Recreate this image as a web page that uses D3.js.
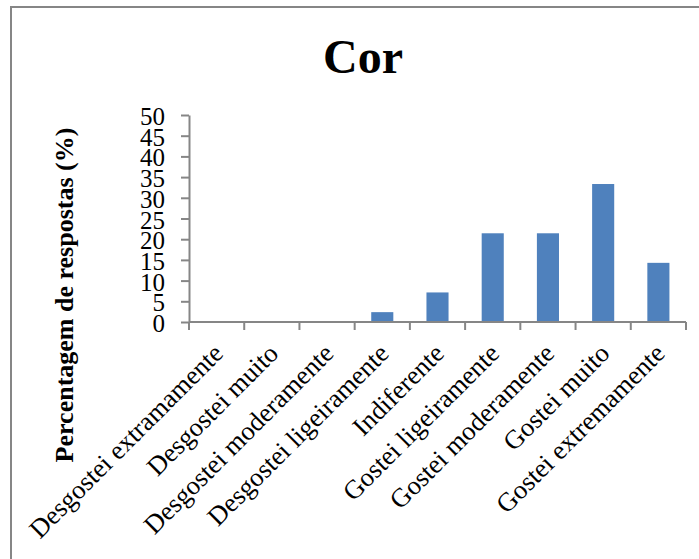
<!DOCTYPE html>
<html>
<head>
<meta charset="utf-8">
<script src="https://cdn.jsdelivr.net/npm/d3@7"></script>
<style>
  html, body { margin: 0; padding: 0; background: #fff; }
  svg { display: block; }
  text { font-family: "Liberation Serif", "Times New Roman", serif; fill: #000; }
</style>
</head>
<body>
<svg id="chart" width="699" height="559"></svg>
<script>
// Category labels (hedonic scale) and percentage of responses
const categories = [
  "Desgostei extramamente",
  "Desgostei muito",
  "Desgostei moderamente",
  "Desgostei ligeiramente",
  "Indiferente",
  "Gostei ligeiramente",
  "Gostei moderamente",
  "Gostei muito",
  "Gostei extremamente"
];
const values = [0, 0, 0, 2.38, 7.14, 21.43, 21.43, 33.33, 14.29];
const yTicks = [0, 5, 10, 15, 20, 25, 30, 35, 40, 45, 50];
const titleText = "Cor";
const yTitle = "Percentagem de respostas (%)";

const svg = d3.select("#chart");

// Chart frame
svg.append("rect")
  .attr("x", 11).attr("y", 7)
  .attr("width", 720).attr("height", 600)
  .attr("fill", "#fff")
  .attr("stroke", "#868686").attr("stroke-width", 2);

const plot = { left: 189, right: 686, top: 115, bottom: 322 };

const x = d3.scaleBand().domain(categories).range([plot.left, plot.right]).padding(0);
const y = d3.scaleLinear().domain([0, 50]).range([plot.bottom, plot.top]);

// Bars
const barW = x.bandwidth() * 0.4;
svg.append("g").selectAll("rect")
  .data(categories.map((c, i) => ({ c, v: values[i] })))
  .join("rect")
  .attr("x", d => x(d.c) + (x.bandwidth() - barW) / 2)
  .attr("y", d => y(d.v))
  .attr("width", barW)
  .attr("height", d => y(0) - y(d.v))
  .attr("fill", "#4F81BD");

// Y axis
const yAxis = svg.append("g")
  .attr("transform", `translate(${plot.left},0)`)
  .call(d3.axisLeft(y).tickValues(yTicks).tickSize(8).tickSizeOuter(0).tickPadding(16));
yAxis.selectAll("path, line").attr("stroke", "#868686").attr("stroke-width", 2);
yAxis.selectAll("text")
  .attr("font-family", "Liberation Serif, Times New Roman, serif")
  .attr("font-size", 25)
  .attr("dy", "0.38em");

// X axis: ticks at category boundaries
const boundaries = categories.map(c => x(c)).concat([plot.right]);
const xg = svg.append("g");
xg.append("line")
  .attr("x1", plot.left).attr("x2", plot.right)
  .attr("y1", y(0)).attr("y2", y(0))
  .attr("stroke", "#868686").attr("stroke-width", 2);
xg.selectAll("line.tick")
  .data(boundaries)
  .join("line")
  .attr("class", "tick")
  .attr("x1", d => d).attr("x2", d => d)
  .attr("y1", y(0)).attr("y2", y(0) + 8)
  .attr("stroke", "#868686").attr("stroke-width", 2);

// Rotated category labels
xg.selectAll("text")
  .data(categories)
  .join("text")
  .attr("text-anchor", "end")
  .attr("font-size", 26.5)
  .attr("transform", d => `translate(${x(d) + x.bandwidth() / 2 + 8},355) rotate(-45)`)
  .text(d => d);

// Title
svg.append("text")
  .attr("x", 363).attr("y", 73)
  .attr("text-anchor", "middle")
  .attr("font-size", 48)
  .attr("font-weight", "bold")
  .text(titleText);

// Y axis title
svg.append("text")
  .attr("transform", "translate(73,295) rotate(-90)")
  .attr("text-anchor", "middle")
  .attr("font-size", 26)
  .attr("font-weight", "bold")
  .text(yTitle);
</script>
</body>
</html>
